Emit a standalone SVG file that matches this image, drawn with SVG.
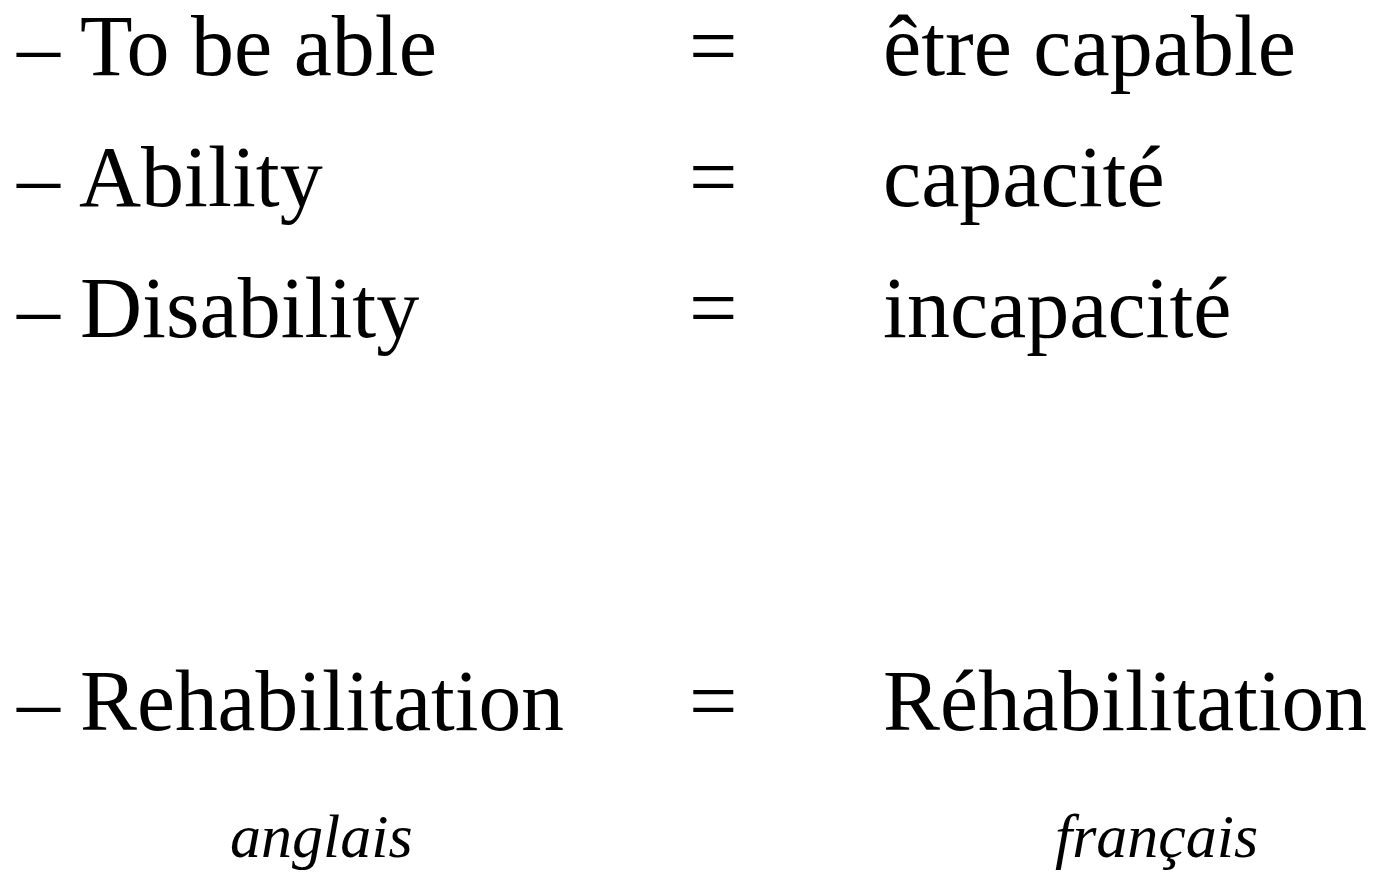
<svg xmlns="http://www.w3.org/2000/svg" width="1374" height="875" viewBox="0 0 1374 875">
<style>
.t{font-family:"Liberation Serif","Times New Roman",serif;font-size:86px;fill:#000}
.i{font-family:"Liberation Serif","Times New Roman",serif;font-size:62px;font-style:italic;fill:#000}
</style>
<rect width="1374" height="875" fill="#fff"/>
<g id="row1">
<text class="t" x="17" y="75">–<tspan x="80">To be able</tspan></text>
<text class="t" x="689" y="75">=</text>
<text class="t" x="883" y="75">être capable</text>
</g>
<g id="row2">
<text class="t" x="17" y="206">–<tspan x="79">Ability</tspan></text>
<text class="t" x="689" y="206">=</text>
<text class="t" x="883" y="206">capacité</text>
</g>
<g id="row3">
<text class="t" x="17" y="337">–<tspan x="80">Disability</tspan></text>
<text class="t" x="689" y="337">=</text>
<text class="t" x="883" y="337">incapacité</text>
</g>
<g id="row4">
<text class="t" x="17" y="730">–<tspan x="80" textLength="484" lengthAdjust="spacingAndGlyphs">Rehabilitation</tspan></text>
<text class="t" x="689" y="730">=</text>
<text class="t" x="883" y="730" textLength="484" lengthAdjust="spacingAndGlyphs">Réhabilitation</text>
</g>
<g id="labels">
<text class="i" x="230" y="857">anglais</text>
<text class="i" x="1055" y="857">français</text>
</g>
</svg>
